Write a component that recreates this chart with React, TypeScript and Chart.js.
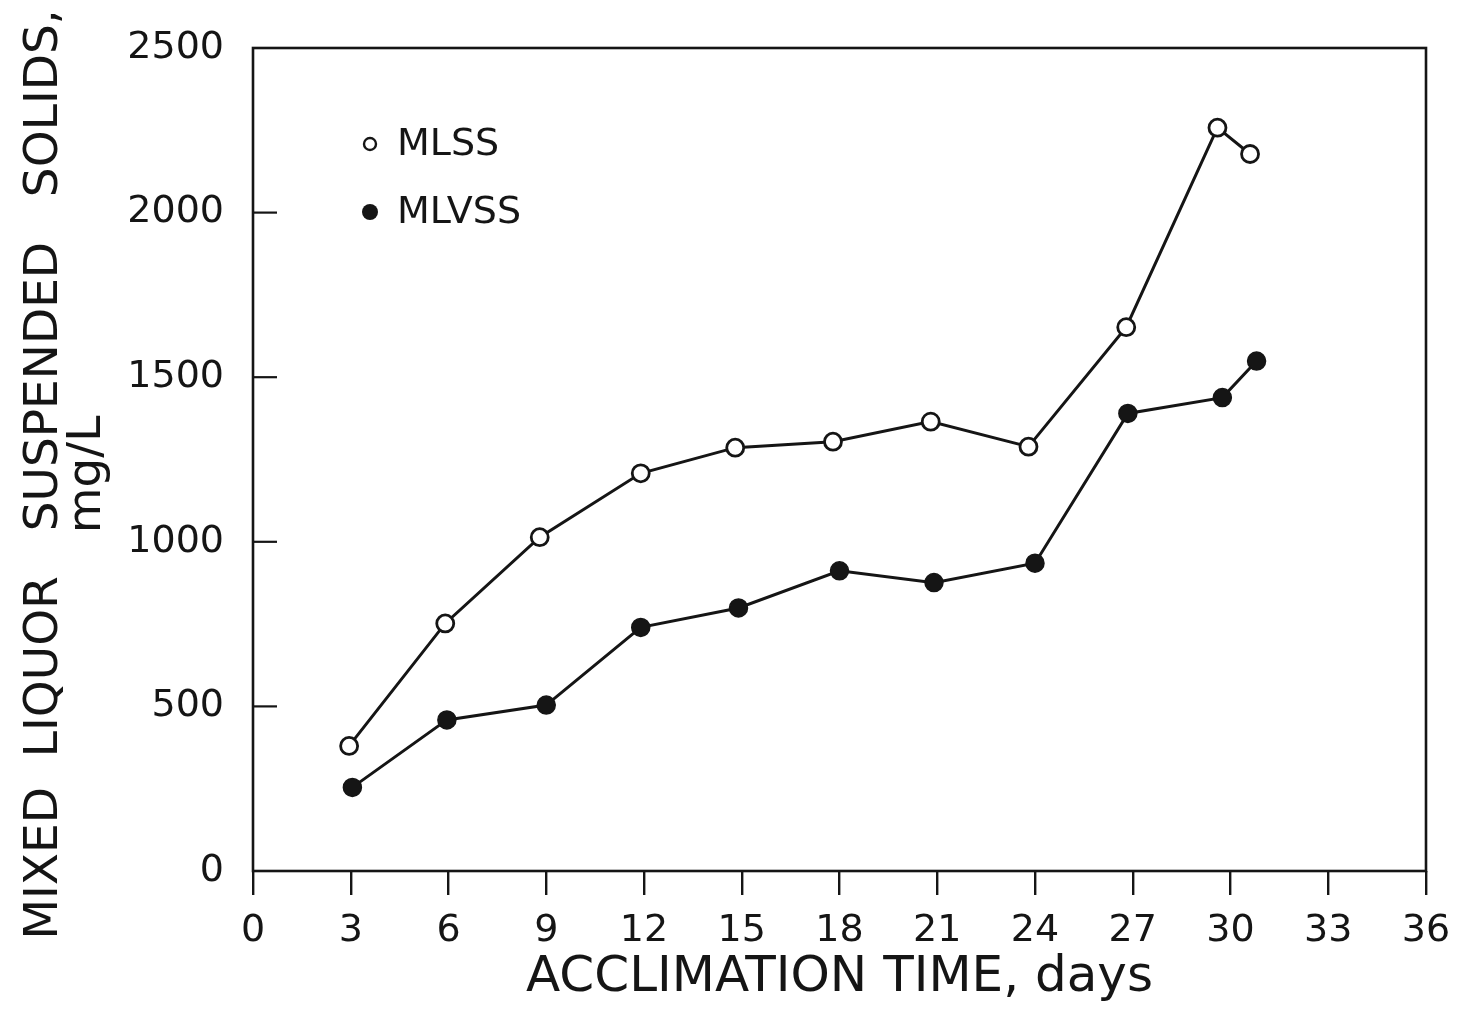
import React, { useEffect, useRef } from "react";
import { Chart, registerables } from "chart.js";

Chart.register(...registerables);

// ---- data ----
const xTickValues = [0, 3, 6, 9, 12, 15, 18, 21, 24, 27, 30, 33, 36];
const yTickValues = [0, 500, 1000, 1500, 2000, 2500];

const mlssDays = [2.95, 5.9, 8.8, 11.9, 14.8, 17.8, 20.8, 23.8, 26.8, 29.6, 30.6];
const mlssValues = [380, 752, 1014, 1208, 1286, 1304, 1365, 1289, 1652, 2258, 2178];

const mlvssDays = [3.05, 5.95, 9.0, 11.9, 14.9, 18.0, 20.9, 24.0, 26.85, 29.75, 30.8];
const mlvssValues = [254, 459, 504, 740, 799, 912, 876, 935, 1390, 1438, 1549];

const seriesLabels = ["MLSS", "MLVSS"];
const xTitle = "ACCLIMATION TIME, days";
const yTitle = ["MIXED  LIQUOR   SUSPENDED   SOLIDS,  ", "mg/L  "];

const INK = "#151515";
const FONT = "'DejaVu Sans', 'Noto Sans', sans-serif";

const framePlugin = {
  id: "frameAndInwardTicks",
  afterDraw(chart: any) {
    const { ctx, chartArea, scales } = chart;
    const { left, right, top, bottom } = chartArea;
    ctx.save();
    ctx.strokeStyle = INK;
    ctx.lineWidth = 2.6;
    ctx.strokeRect(left, top, right - left, bottom - top);
    // inward ticks on the y axis
    const y = scales.y;
    ctx.lineWidth = 2.2;
    yTickValues.forEach((v) => {
      if (v === y.min || v === y.max) return;
      const py = y.getPixelForValue(v);
      ctx.beginPath();
      ctx.moveTo(left, py);
      ctx.lineTo(left + 24, py);
      ctx.stroke();
    });
    ctx.restore();
  },
};

const insideLegendPlugin = {
  id: "insideLegend",
  afterDraw(chart: any) {
    const { ctx, chartArea } = chart;
    const x0 = chartArea.left + 117;
    const y0 = chartArea.top + 96;
    const rowGap = 68;
    ctx.save();
    ctx.font = `38px ${FONT}`;
    ctx.textBaseline = "middle";
    ctx.textAlign = "left";
    ctx.fillStyle = INK;
    chart.data.datasets.forEach((ds: any, i: number) => {
      const cy = y0 + i * rowGap;
      ctx.beginPath();
      ctx.lineWidth = 2.4;
      ctx.strokeStyle = INK;
      if (i === 0) {
        ctx.arc(x0, cy, 6, 0, Math.PI * 2);
        ctx.fillStyle = "#fff";
        ctx.fill();
        ctx.stroke();
      } else {
        ctx.arc(x0, cy, 8, 0, Math.PI * 2);
        ctx.fillStyle = INK;
        ctx.fill();
      }
      ctx.fillStyle = INK;
      ctx.fillText(ds.label, x0 + 27, cy + 1);
    });
    ctx.restore();
  },
};

export default function App() {
  const canvasRef = useRef<HTMLCanvasElement | null>(null);

  useEffect(() => {
    const canvas = canvasRef.current;
    if (!canvas) return;
    const chart = new Chart(canvas, {
      type: "scatter",
      data: {
        datasets: [
          {
            label: seriesLabels[0],
            data: mlssDays.map((d, i) => ({ x: d, y: mlssValues[i] })),
            showLine: true,
            borderColor: INK,
            borderWidth: 3,
            pointRadius: 8.5,
            pointBorderWidth: 2.8,
            pointBackgroundColor: "#ffffff",
            pointBorderColor: INK,
            tension: 0,
          },
          {
            label: seriesLabels[1],
            data: mlvssDays.map((d, i) => ({ x: d, y: mlvssValues[i] })),
            showLine: true,
            borderColor: INK,
            borderWidth: 3,
            pointRadius: 9,
            pointBorderWidth: 1.5,
            pointBackgroundColor: INK,
            pointBorderColor: INK,
            tension: 0,
          },
        ],
      },
      options: {
        responsive: false,
        animation: false,
        layout: { padding: { left: 0, top: 48, right: 34, bottom: 0 } },
        plugins: {
          legend: { display: false },
          tooltip: { enabled: false },
        },
        scales: {
          x: {
            type: "linear",
            min: 0,
            max: 36,
            afterBuildTicks: (scale: any) => {
              scale.ticks = xTickValues.map((v) => ({ value: v }));
            },
            afterFit: (scale: any) => {
              scale.height = 140;
              scale.paddingLeft = 0;
              scale.paddingRight = 0;
            },
            grid: {
              display: true,
              drawOnChartArea: false,
              drawTicks: true,
              tickLength: 24,
              color: INK,
              lineWidth: 2.4,
            },
            border: { display: false },
            ticks: {
              color: INK,
              font: { family: FONT, size: 38 },
              padding: 13,
              maxRotation: 0,
              autoSkip: false,
              callback: (v: any) => String(v),
            },
            title: {
              display: true,
              text: xTitle,
              color: INK,
              font: { family: FONT, size: 50, lineHeight: 1.0 },
              padding: { top: 0, bottom: 8 },
            },
          },
          y: {
            type: "linear",
            min: 0,
            max: 2500,
            afterBuildTicks: (scale: any) => {
              scale.ticks = yTickValues.map((v) => ({ value: v }));
            },
            afterFit: (scale: any) => {
              scale.width = 253;
              scale.paddingTop = 0;
              scale.paddingBottom = 0;
            },
            grid: { display: false },
            border: { display: false },
            ticks: {
              color: INK,
              font: { family: FONT, size: 38 },
              padding: 21,
              callback: (v: any) => String(v),
            },
            title: {
              display: true,
              text: yTitle,
              color: INK,
              font: { family: FONT, size: 47, lineHeight: 0.9 },
              padding: { top: 24, bottom: 0 },
            },
          },
        },
      },
      plugins: [framePlugin, insideLegendPlugin],
    });
    return () => chart.destroy();
  }, []);

  return (
    <div style={{ position: "absolute", left: 0, top: 0, width: 1460, height: 1011, background: "#fff" }}>
      <canvas ref={canvasRef} width={1460} height={1011} style={{ display: "block" }} />
    </div>
  );
}
